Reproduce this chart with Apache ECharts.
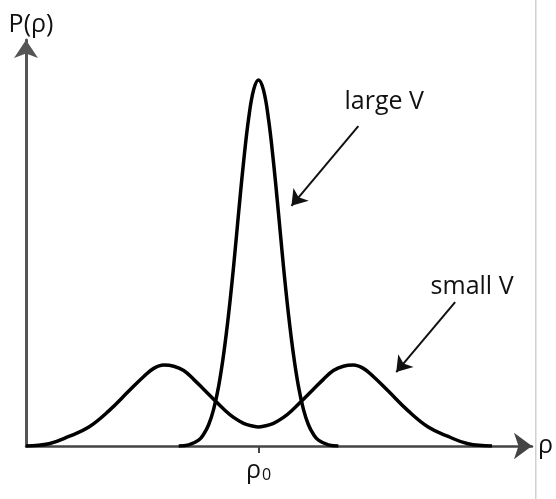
<!DOCTYPE html>
<html lang="en">
<head>
    <meta charset="UTF-8">
    <title>P(rho)</title>
    <script src="https://cdn.jsdelivr.net/npm/echarts@6/dist/echarts.min.js"></script>
    <style>
        html, body { margin: 0; padding: 0; background: #fff; }
        #main { width: 556px; height: 499px; }
    </style>
</head>
<body>
<div id="main"></div>
<script>
    // x: rho - rho0 (arbitrary units), y: P(rho) relative to the large-V peak
    const smallX = [-23.3, -21, -19, -17, -15, -13, -11.5, -10.5, -9.5, -8.5, -7.5, -6.5, -5.5, -4.5, -3.5, -2.5, -1.5, -0.5, 0,
        0.5, 1.5, 2.5, 3.5, 4.5, 5.5, 6.5, 7.5, 8.5, 9.5, 10.5, 11.5, 13, 15, 17, 19, 21, 23.4]
    const smallY = [0, 0.006, 0.026, 0.052, 0.096, 0.150, 0.190, 0.212, 0.221, 0.218, 0.206, 0.182, 0.155, 0.128, 0.101, 0.078, 0.062, 0.054, 0.052,
        0.054, 0.062, 0.078, 0.101, 0.128, 0.155, 0.182, 0.206, 0.218, 0.221, 0.212, 0.190, 0.150, 0.096, 0.052, 0.026, 0.006, 0]
    const largeX = [-8, -7, -6, -5.5, -5, -4.5, -4, -3.5, -3, -2.5, -2, -1.5, -1, -0.5, 0,
        0.5, 1, 1.5, 2, 2.5, 3, 3.5, 4, 4.5, 5, 5.5, 6, 7, 8]
    const largeY = [0, 0.003, 0.016, 0.032, 0.058, 0.100, 0.163, 0.250, 0.360, 0.490, 0.636, 0.775, 0.893, 0.972, 1.000,
        0.972, 0.893, 0.775, 0.636, 0.490, 0.360, 0.250, 0.163, 0.100, 0.058, 0.032, 0.016, 0.003, 0]
    const tickValues = [0]
    const labels = ['large V', 'small V']
    const labelPos = [[12.6, 0.94], [21.4, 0.434]]
    const arrowFrom = [[10.0, 0.874], [19.7, 0.393]]
    const arrowTo = [[3.3, 0.656], [13.8, 0.202]]

    const font = 'Open Sans'
    const chart = echarts.init(document.getElementById('main'))

    const zip = (xs, ys) => xs.map((x, i) => [x, ys[i]])

    const option = {
        animation: false,
        grid: { left: 26, right: 23, top: 40, bottom: 53 },
        xAxis: {
            type: 'value',
            min: -23.3,
            max: 27.4,
            splitLine: { show: false },
            axisLine: {
                onZero: false,
                symbol: ['none', 'arrow'],
                symbolSize: [20, 18],
                lineStyle: { color: '#444', width: 2.5 }
            },
            axisTick: { show: true, customValues: tickValues, length: 7, lineStyle: { color: '#444', width: 2 } },
            axisLabel: {
                show: true,
                customValues: tickValues,
                margin: 12,
                formatter: v => v === 0 ? '{r|ρ}{s|0}' : '',
                rich: {
                    r: { fontFamily: font, fontSize: 25, lineHeight: 25, color: '#111', verticalAlign: 'top', padding: [0, 0, 10, 0] },
                    s: { fontFamily: font, fontSize: 16, lineHeight: 16, color: '#111', verticalAlign: 'bottom', padding: [0, 0, 0, 1] }
                }
            },
            name: 'ρ',
            nameLocation: 'end',
            nameGap: 6,
            nameTextStyle: { fontFamily: font, fontSize: 25, color: '#111' }
        },
        yAxis: {
            type: 'value',
            min: 0,
            max: 1.109,
            splitLine: { show: false },
            axisLine: {
                show: true,
                onZero: false,
                symbol: ['none', 'arrow'],
                symbolSize: [18, 18],
                lineStyle: { color: '#555', width: 3 }
            },
            axisTick: { show: false },
            axisLabel: { show: false },
            name: 'P(ρ)',
            nameLocation: 'end',
            nameGap: 3,
            nameTextStyle: { fontFamily: font, fontSize: 25, color: '#111', padding: [0, 0, 0, 10] }
        },
        series: [
            {
                name: 'small V',
                type: 'line',
                data: zip(smallX, smallY),
                smooth: 0.4,
                showSymbol: false,
                lineStyle: { color: '#000', width: 3.5 },
                z: 3
            },
            {
                name: 'large V',
                type: 'line',
                data: zip(largeX, largeY),
                smooth: 0.4,
                showSymbol: false,
                lineStyle: { color: '#000', width: 3.5 },
                z: 3,
                markLine: {
                    silent: true,
                    symbol: ['none', 'arrow'],
                    symbolSize: 15,
                    label: { show: false },
                    lineStyle: { color: '#111', width: 2, type: 'solid' },
                    data: arrowFrom.map((p, i) => [{ coord: p }, { coord: arrowTo[i] }])
                },
                markPoint: {
                    silent: true,
                    symbol: 'circle',
                    symbolSize: 0,
                    label: {
                        show: true,
                        position: 'inside',
                        fontFamily: font,
                        fontSize: 25,
                        color: '#111',
                        formatter: p => p.name
                    },
                    data: labels.map((t, i) => ({ name: t, coord: labelPos[i] }))
                }
            }
        ],
        graphic: [
            {
                type: 'rect',
                shape: { x: 535, y: 0, width: 1.5, height: 499 },
                style: { fill: '#d0d0d0' },
                silent: true
            }
        ]
    }

    chart.setOption(option)
</script>
</body>
</html>
